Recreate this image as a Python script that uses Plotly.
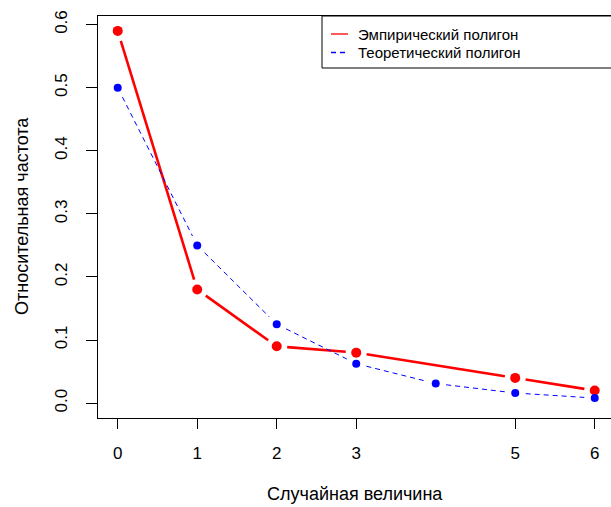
import math
import plotly.graph_objects as go

# ---- data ----
emp_x = [0, 1, 2, 3, 5, 6]
emp_y = [0.59, 0.18, 0.09, 0.08, 0.04, 0.02]
theo_x = [0, 1, 2, 3, 4, 5, 6]
theo_y = [0.5, 0.25, 0.125, 0.0625, 0.031, 0.016, 0.008]
x_ticks = [0, 1, 2, 3, 5, 6]
y_ticks = [0.0, 0.1, 0.2, 0.3, 0.4, 0.5, 0.6]
legend_labels = ["Эмпирический полигон", "Теоретический полигон"]
x_title = "Случайная величина"
y_title = "Относительная частота"

# ---- layout geometry ----
W, H = 611, 507
L_M, T_M, R_M, B_M = 98, 16, 0, 89
PW, PH = W - L_M - R_M, H - T_M - B_M
XR = [-0.248, -0.248 + PW / 79.5]
YR = [-0.0236, 0.6136]
kx = PW / (XR[1] - XR[0])
ky = PH / (YR[1] - YR[0])
GAP = 10.5  # px gap around points (R type="b")
FONT = "Arial, Liberation Sans, sans-serif"


def gapped(xs, ys, gap=GAP):
    ox, oy = [], []
    for i in range(len(xs) - 1):
        x0, y0, x1, y1 = xs[i], ys[i], xs[i + 1], ys[i + 1]
        d = math.hypot((x1 - x0) * kx, (y1 - y0) * ky)
        if d <= 2 * gap:
            continue
        f = gap / d
        ox += [x0 + (x1 - x0) * f, x1 - (x1 - x0) * f, None]
        oy += [y0 + (y1 - y0) * f, y1 - (y1 - y0) * f, None]
    return ox, oy


def px(xp):
    return (xp - L_M) / PW


def py(yp):
    return (T_M + PH - yp) / PH


fig = go.Figure()
gx, gy = gapped(emp_x, emp_y)
fig.add_trace(go.Scatter(x=gx, y=gy, mode="lines", line=dict(color="#ff0000", width=2.6),
                         showlegend=False, hoverinfo="skip"))
fig.add_trace(go.Scatter(x=emp_x, y=emp_y, mode="markers", marker=dict(color="#ff0000", size=10),
                         showlegend=False, name=legend_labels[0]))
tx, ty = gapped(theo_x, theo_y)
fig.add_trace(go.Scatter(x=tx, y=ty, mode="lines", line=dict(color="#0000ff", width=1, dash="5px,4px"),
                         showlegend=False, hoverinfo="skip"))
fig.add_trace(go.Scatter(x=theo_x, y=theo_y, mode="markers", marker=dict(color="#0000ff", size=8),
                         showlegend=False, name=legend_labels[1]))

# manual legend (R style)
shapes = [
    dict(type="rect", xref="paper", yref="paper", x0=px(322), x1=px(640), y0=py(68), y1=py(16),
         line=dict(color="#000", width=1), fillcolor="white", layer="above"),
    dict(type="line", xref="paper", yref="paper", x0=px(331), x1=px(348), y0=py(34), y1=py(34),
         line=dict(color="#ff0000", width=1.3)),
    dict(type="line", xref="paper", yref="paper", x0=px(331), x1=px(348), y0=py(52.5), y1=py(52.5),
         line=dict(color="#0000ff", width=1.3, dash="5px,4px")),
]
annotations = [
    dict(text=legend_labels[0], xref="paper", yref="paper", x=px(356), y=py(34),
         xanchor="left", yanchor="middle", showarrow=False, font=dict(size=15, color="#000", family=FONT)),
    dict(text=legend_labels[1], xref="paper", yref="paper", x=px(356), y=py(52.5),
         xanchor="left", yanchor="middle", showarrow=False, font=dict(size=15, color="#000", family=FONT)),
    dict(text=x_title, xref="paper", yref="paper", x=px(355), y=py(494),
         xanchor="center", yanchor="middle", showarrow=False, font=dict(size=18, color="#000", family=FONT)),
    dict(text=y_title, xref="paper", yref="paper", x=px(22), y=py(216), textangle=-90,
         xanchor="center", yanchor="middle", showarrow=False, font=dict(size=18, color="#000", family=FONT)),
]

fig.update_layout(
    width=W, height=H,
    margin=dict(l=L_M, r=R_M, t=T_M, b=B_M),
    paper_bgcolor="white", plot_bgcolor="white",
    font=dict(family=FONT, size=17, color="#000"),
    shapes=shapes, annotations=annotations,
)
fig.update_xaxes(range=XR, tickvals=x_ticks, ticktext=[str(v) for v in x_ticks],
                 showgrid=False, zeroline=False, showline=True, linecolor="#000", linewidth=1,
                 mirror=True, ticks="outside", ticklen=10, tickcolor="#000", tickwidth=1,
                 ticklabelstandoff=10, tickfont=dict(size=17, family=FONT, color="#000"))
fig.update_yaxes(range=YR, tickvals=y_ticks, ticktext=["%.1f" % v for v in y_ticks],
                 showgrid=False, zeroline=False, showline=True, linecolor="#000", linewidth=1,
                 mirror=False, ticks="outside", ticklen=11, tickcolor="#000", tickwidth=1,
                 tickangle=-90, ticklabelstandoff=12, tickfont=dict(size=17, family=FONT, color="#000"))

fig.write_html("out.html", config={"displayModeBar": False},
               post_script="document.body.style.margin='0';document.body.style.overflow='hidden';")
